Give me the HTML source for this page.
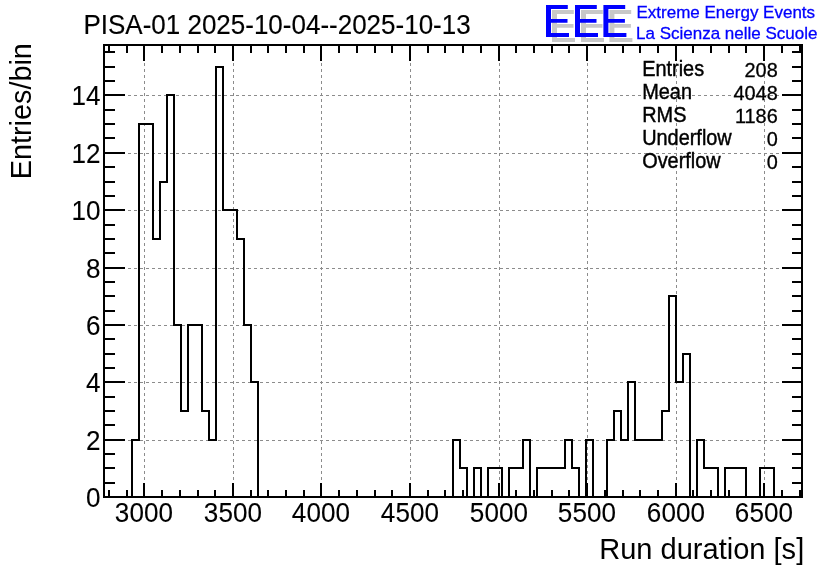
<!DOCTYPE html>
<html><head><meta charset="utf-8"><title>PISA-01 run duration</title>
<style>
html,body{margin:0;padding:0;background:#fff;}
body{width:836px;height:572px;overflow:hidden;}
svg{display:block;will-change:transform;}
text{font-family:"Liberation Sans",sans-serif;}
</style></head><body>
<svg width="836" height="572" viewBox="0 0 836 572">
<rect width="836" height="572" fill="#fff"/>
<g stroke="#8c8c8c" stroke-width="1" stroke-dasharray="3 3" shape-rendering="crispEdges" fill="none">
<line x1="144.5" y1="45" x2="144.5" y2="497"/>
<line x1="233.5" y1="45" x2="233.5" y2="497"/>
<line x1="321.5" y1="45" x2="321.5" y2="497"/>
<line x1="410.5" y1="45" x2="410.5" y2="497"/>
<line x1="499.5" y1="45" x2="499.5" y2="497"/>
<line x1="587.5" y1="45" x2="587.5" y2="497"/>
<line x1="676.5" y1="45" x2="676.5" y2="497"/>
<line x1="764.5" y1="45" x2="764.5" y2="497"/>
<line x1="104" y1="440.5" x2="802" y2="440.5"/>
<line x1="104" y1="382.5" x2="802" y2="382.5"/>
<line x1="104" y1="325.5" x2="802" y2="325.5"/>
<line x1="104" y1="268.5" x2="802" y2="268.5"/>
<line x1="104" y1="210.5" x2="802" y2="210.5"/>
<line x1="104" y1="153.5" x2="802" y2="153.5"/>
<line x1="104" y1="95.5" x2="802" y2="95.5"/>
</g>
<path d="M132 497V440H139V124H153V239H160V182H167V95H174V325H181V411H188V325H202V411H209V440H216V67H223V210H237V239H244V325H251V382H258V497H453V440H460V468H467V497H474V468H481V497H488V468H502V497H509V468H523V440H530V497H537V468H565V440H572V468H579V497H586V440H593V497H607V440H614V411H621V440H628V382H635V440H662V411H669V296H676V382H683V354H690V497H697V440H704V468H718V497H725V468H746V497H760V468H774V497H802" fill="none" stroke="#000" stroke-width="2" stroke-linejoin="miter" shape-rendering="crispEdges"/>
<g stroke="#000" stroke-width="2" shape-rendering="crispEdges" fill="none">
<line x1="109" y1="497.0" x2="109" y2="490.0"/><line x1="109" y1="45.0" x2="109" y2="53.0"/>
<line x1="127" y1="497.0" x2="127" y2="490.0"/><line x1="127" y1="45.0" x2="127" y2="53.0"/>
<line x1="144" y1="497.0" x2="144" y2="483.0"/><line x1="144" y1="45.0" x2="144" y2="61.0"/>
<line x1="162" y1="497.0" x2="162" y2="490.0"/><line x1="162" y1="45.0" x2="162" y2="53.0"/>
<line x1="180" y1="497.0" x2="180" y2="490.0"/><line x1="180" y1="45.0" x2="180" y2="53.0"/>
<line x1="198" y1="497.0" x2="198" y2="490.0"/><line x1="198" y1="45.0" x2="198" y2="53.0"/>
<line x1="215" y1="497.0" x2="215" y2="490.0"/><line x1="215" y1="45.0" x2="215" y2="53.0"/>
<line x1="233" y1="497.0" x2="233" y2="483.0"/><line x1="233" y1="45.0" x2="233" y2="61.0"/>
<line x1="251" y1="497.0" x2="251" y2="490.0"/><line x1="251" y1="45.0" x2="251" y2="53.0"/>
<line x1="268" y1="497.0" x2="268" y2="490.0"/><line x1="268" y1="45.0" x2="268" y2="53.0"/>
<line x1="286" y1="497.0" x2="286" y2="490.0"/><line x1="286" y1="45.0" x2="286" y2="53.0"/>
<line x1="304" y1="497.0" x2="304" y2="490.0"/><line x1="304" y1="45.0" x2="304" y2="53.0"/>
<line x1="321" y1="497.0" x2="321" y2="483.0"/><line x1="321" y1="45.0" x2="321" y2="61.0"/>
<line x1="339" y1="497.0" x2="339" y2="490.0"/><line x1="339" y1="45.0" x2="339" y2="53.0"/>
<line x1="357" y1="497.0" x2="357" y2="490.0"/><line x1="357" y1="45.0" x2="357" y2="53.0"/>
<line x1="375" y1="497.0" x2="375" y2="490.0"/><line x1="375" y1="45.0" x2="375" y2="53.0"/>
<line x1="392" y1="497.0" x2="392" y2="490.0"/><line x1="392" y1="45.0" x2="392" y2="53.0"/>
<line x1="410" y1="497.0" x2="410" y2="483.0"/><line x1="410" y1="45.0" x2="410" y2="61.0"/>
<line x1="428" y1="497.0" x2="428" y2="490.0"/><line x1="428" y1="45.0" x2="428" y2="53.0"/>
<line x1="445" y1="497.0" x2="445" y2="490.0"/><line x1="445" y1="45.0" x2="445" y2="53.0"/>
<line x1="463" y1="497.0" x2="463" y2="490.0"/><line x1="463" y1="45.0" x2="463" y2="53.0"/>
<line x1="481" y1="497.0" x2="481" y2="490.0"/><line x1="481" y1="45.0" x2="481" y2="53.0"/>
<line x1="499" y1="497.0" x2="499" y2="483.0"/><line x1="499" y1="45.0" x2="499" y2="61.0"/>
<line x1="516" y1="497.0" x2="516" y2="490.0"/><line x1="516" y1="45.0" x2="516" y2="53.0"/>
<line x1="534" y1="497.0" x2="534" y2="490.0"/><line x1="534" y1="45.0" x2="534" y2="53.0"/>
<line x1="552" y1="497.0" x2="552" y2="490.0"/><line x1="552" y1="45.0" x2="552" y2="53.0"/>
<line x1="569" y1="497.0" x2="569" y2="490.0"/><line x1="569" y1="45.0" x2="569" y2="53.0"/>
<line x1="587" y1="497.0" x2="587" y2="483.0"/><line x1="587" y1="45.0" x2="587" y2="61.0"/>
<line x1="605" y1="497.0" x2="605" y2="490.0"/><line x1="605" y1="45.0" x2="605" y2="53.0"/>
<line x1="623" y1="497.0" x2="623" y2="490.0"/><line x1="623" y1="45.0" x2="623" y2="53.0"/>
<line x1="640" y1="497.0" x2="640" y2="490.0"/><line x1="640" y1="45.0" x2="640" y2="53.0"/>
<line x1="658" y1="497.0" x2="658" y2="490.0"/><line x1="658" y1="45.0" x2="658" y2="53.0"/>
<line x1="676" y1="497.0" x2="676" y2="483.0"/><line x1="676" y1="45.0" x2="676" y2="61.0"/>
<line x1="693" y1="497.0" x2="693" y2="490.0"/><line x1="693" y1="45.0" x2="693" y2="53.0"/>
<line x1="711" y1="497.0" x2="711" y2="490.0"/><line x1="711" y1="45.0" x2="711" y2="53.0"/>
<line x1="729" y1="497.0" x2="729" y2="490.0"/><line x1="729" y1="45.0" x2="729" y2="53.0"/>
<line x1="746" y1="497.0" x2="746" y2="490.0"/><line x1="746" y1="45.0" x2="746" y2="53.0"/>
<line x1="764" y1="497.0" x2="764" y2="483.0"/><line x1="764" y1="45.0" x2="764" y2="61.0"/>
<line x1="782" y1="497.0" x2="782" y2="490.0"/><line x1="782" y1="45.0" x2="782" y2="53.0"/>
<line x1="800" y1="497.0" x2="800" y2="490.0"/><line x1="800" y1="45.0" x2="800" y2="53.0"/>
<line x1="104.0" y1="497" x2="125.0" y2="497"/><line x1="802.0" y1="497" x2="782.0" y2="497"/>
<line x1="104.0" y1="483" x2="115.0" y2="483"/><line x1="802.0" y1="483" x2="792.0" y2="483"/>
<line x1="104.0" y1="468" x2="115.0" y2="468"/><line x1="802.0" y1="468" x2="792.0" y2="468"/>
<line x1="104.0" y1="454" x2="115.0" y2="454"/><line x1="802.0" y1="454" x2="792.0" y2="454"/>
<line x1="104.0" y1="440" x2="125.0" y2="440"/><line x1="802.0" y1="440" x2="782.0" y2="440"/>
<line x1="104.0" y1="425" x2="115.0" y2="425"/><line x1="802.0" y1="425" x2="792.0" y2="425"/>
<line x1="104.0" y1="411" x2="115.0" y2="411"/><line x1="802.0" y1="411" x2="792.0" y2="411"/>
<line x1="104.0" y1="397" x2="115.0" y2="397"/><line x1="802.0" y1="397" x2="792.0" y2="397"/>
<line x1="104.0" y1="382" x2="125.0" y2="382"/><line x1="802.0" y1="382" x2="782.0" y2="382"/>
<line x1="104.0" y1="368" x2="115.0" y2="368"/><line x1="802.0" y1="368" x2="792.0" y2="368"/>
<line x1="104.0" y1="354" x2="115.0" y2="354"/><line x1="802.0" y1="354" x2="792.0" y2="354"/>
<line x1="104.0" y1="339" x2="115.0" y2="339"/><line x1="802.0" y1="339" x2="792.0" y2="339"/>
<line x1="104.0" y1="325" x2="125.0" y2="325"/><line x1="802.0" y1="325" x2="782.0" y2="325"/>
<line x1="104.0" y1="311" x2="115.0" y2="311"/><line x1="802.0" y1="311" x2="792.0" y2="311"/>
<line x1="104.0" y1="296" x2="115.0" y2="296"/><line x1="802.0" y1="296" x2="792.0" y2="296"/>
<line x1="104.0" y1="282" x2="115.0" y2="282"/><line x1="802.0" y1="282" x2="792.0" y2="282"/>
<line x1="104.0" y1="268" x2="125.0" y2="268"/><line x1="802.0" y1="268" x2="782.0" y2="268"/>
<line x1="104.0" y1="253" x2="115.0" y2="253"/><line x1="802.0" y1="253" x2="792.0" y2="253"/>
<line x1="104.0" y1="239" x2="115.0" y2="239"/><line x1="802.0" y1="239" x2="792.0" y2="239"/>
<line x1="104.0" y1="225" x2="115.0" y2="225"/><line x1="802.0" y1="225" x2="792.0" y2="225"/>
<line x1="104.0" y1="210" x2="125.0" y2="210"/><line x1="802.0" y1="210" x2="782.0" y2="210"/>
<line x1="104.0" y1="196" x2="115.0" y2="196"/><line x1="802.0" y1="196" x2="792.0" y2="196"/>
<line x1="104.0" y1="182" x2="115.0" y2="182"/><line x1="802.0" y1="182" x2="792.0" y2="182"/>
<line x1="104.0" y1="167" x2="115.0" y2="167"/><line x1="802.0" y1="167" x2="792.0" y2="167"/>
<line x1="104.0" y1="153" x2="125.0" y2="153"/><line x1="802.0" y1="153" x2="782.0" y2="153"/>
<line x1="104.0" y1="138" x2="115.0" y2="138"/><line x1="802.0" y1="138" x2="792.0" y2="138"/>
<line x1="104.0" y1="124" x2="115.0" y2="124"/><line x1="802.0" y1="124" x2="792.0" y2="124"/>
<line x1="104.0" y1="110" x2="115.0" y2="110"/><line x1="802.0" y1="110" x2="792.0" y2="110"/>
<line x1="104.0" y1="95" x2="125.0" y2="95"/><line x1="802.0" y1="95" x2="782.0" y2="95"/>
<line x1="104.0" y1="81" x2="115.0" y2="81"/><line x1="802.0" y1="81" x2="792.0" y2="81"/>
<line x1="104.0" y1="67" x2="115.0" y2="67"/><line x1="802.0" y1="67" x2="792.0" y2="67"/>
<line x1="104.0" y1="52" x2="115.0" y2="52"/><line x1="802.0" y1="52" x2="792.0" y2="52"/>
</g>
<rect x="104.0" y="45.0" width="698.0" height="452.0" fill="none" stroke="#000" stroke-width="2" shape-rendering="crispEdges"/>
<text transform="translate(143.9 522.4) scale(1 1.045)" font-size="26.1" text-anchor="middle" stroke="#000" stroke-width="0.1">3000</text>
<text transform="translate(232.9 522.4) scale(1 1.045)" font-size="26.1" text-anchor="middle" stroke="#000" stroke-width="0.1">3500</text>
<text transform="translate(320.9 522.4) scale(1 1.045)" font-size="26.1" text-anchor="middle" stroke="#000" stroke-width="0.1">4000</text>
<text transform="translate(409.9 522.4) scale(1 1.045)" font-size="26.1" text-anchor="middle" stroke="#000" stroke-width="0.1">4500</text>
<text transform="translate(498.9 522.4) scale(1 1.045)" font-size="26.1" text-anchor="middle" stroke="#000" stroke-width="0.1">5000</text>
<text transform="translate(586.9 522.4) scale(1 1.045)" font-size="26.1" text-anchor="middle" stroke="#000" stroke-width="0.1">5500</text>
<text transform="translate(675.9 522.4) scale(1 1.045)" font-size="26.1" text-anchor="middle" stroke="#000" stroke-width="0.1">6000</text>
<text transform="translate(763.9 522.4) scale(1 1.045)" font-size="26.1" text-anchor="middle" stroke="#000" stroke-width="0.1">6500</text>
<text transform="translate(100.6 506.5) scale(1 1.045)" font-size="26.1" text-anchor="end" stroke="#000" stroke-width="0.1">0</text>
<text transform="translate(100.6 449.5) scale(1 1.045)" font-size="26.1" text-anchor="end" stroke="#000" stroke-width="0.1">2</text>
<text transform="translate(100.6 391.5) scale(1 1.045)" font-size="26.1" text-anchor="end" stroke="#000" stroke-width="0.1">4</text>
<text transform="translate(100.6 334.5) scale(1 1.045)" font-size="26.1" text-anchor="end" stroke="#000" stroke-width="0.1">6</text>
<text transform="translate(100.6 277.5) scale(1 1.045)" font-size="26.1" text-anchor="end" stroke="#000" stroke-width="0.1">8</text>
<text transform="translate(100.6 219.5) scale(1 1.045)" font-size="26.1" text-anchor="end" stroke="#000" stroke-width="0.1">10</text>
<text transform="translate(100.6 162.5) scale(1 1.045)" font-size="26.1" text-anchor="end" stroke="#000" stroke-width="0.1">12</text>
<text transform="translate(100.6 104.5) scale(1 1.045)" font-size="26.1" text-anchor="end" stroke="#000" stroke-width="0.1">14</text>
<text transform="translate(83.4 34.0) scale(1 1.055)" font-size="26.0" stroke="#000" stroke-width="0.15">PISA-01 2025-10-04--2025-10-13</text>
<text transform="translate(804.2 558.9) scale(1 1.035)" font-size="29.05" text-anchor="end">Run duration [s]</text>
<text transform="translate(31.2 43.2) rotate(-90) scale(1 1.05)" font-size="28.8" text-anchor="end">Entries/bin</text>
<text transform="translate(642.2 76.0) scale(1 1.07)" font-size="19.9" stroke="#000" stroke-width="0.4">Entries</text>
<text transform="translate(777.7 76.8) scale(1 1.02)" font-size="19.9" text-anchor="end" stroke="#000" stroke-width="0.3">208</text>
<text transform="translate(642.2 99.0) scale(1 1.07)" font-size="19.9" stroke="#000" stroke-width="0.4">Mean</text>
<text transform="translate(777.7 99.8) scale(1 1.02)" font-size="19.9" text-anchor="end" stroke="#000" stroke-width="0.3">4048</text>
<text transform="translate(642.2 122.0) scale(1 1.07)" font-size="19.9" stroke="#000" stroke-width="0.4">RMS</text>
<text transform="translate(777.7 122.8) scale(1 1.02)" font-size="19.9" text-anchor="end" stroke="#000" stroke-width="0.3">1186</text>
<text transform="translate(642.2 145.0) scale(1 1.07)" font-size="19.9" stroke="#000" stroke-width="0.4">Underflow</text>
<text transform="translate(777.7 145.8) scale(1 1.02)" font-size="19.9" text-anchor="end" stroke="#000" stroke-width="0.3">0</text>
<text transform="translate(642.2 168.0) scale(1 1.07)" font-size="19.9" stroke="#000" stroke-width="0.4">Overflow</text>
<text transform="translate(777.7 168.8) scale(1 1.02)" font-size="19.9" text-anchor="end" stroke="#000" stroke-width="0.3">0</text>
<path d="M552.0 9.9h21.8v4.1h-16.8v9.9h16.5v3.8h-16.5v10.3h18v3.9h-23zM581.0 9.9h21.8v4.1h-16.8v9.9h16.5v3.8h-16.5v10.3h18v3.9h-23zM609.4 9.9h21.8v4.1h-16.8v9.9h16.5v3.8h-16.5v10.3h18v3.9h-23z" fill="#c8c8c8"/>
<path d="M546.0 5.0h21.8v4.1h-16.8v9.9h16.5v3.8h-16.5v10.3h18v3.9h-23zM575.0 5.0h21.8v4.1h-16.8v9.9h16.5v3.8h-16.5v10.3h18v3.9h-23zM603.4 5.0h21.8v4.1h-16.8v9.9h16.5v3.8h-16.5v10.3h18v3.9h-23z" fill="#0000ff"/>
<text transform="translate(636.5 17.8)" font-size="17.0" fill="#0000ff" stroke="#0000ff" stroke-width="0.3">Extreme Energy Events</text>
<text transform="translate(636.0 38.8)" font-size="17.0" fill="#0000ff" stroke="#0000ff" stroke-width="0.3">La Scienza nelle Scuole</text>
</svg>
</body></html>
